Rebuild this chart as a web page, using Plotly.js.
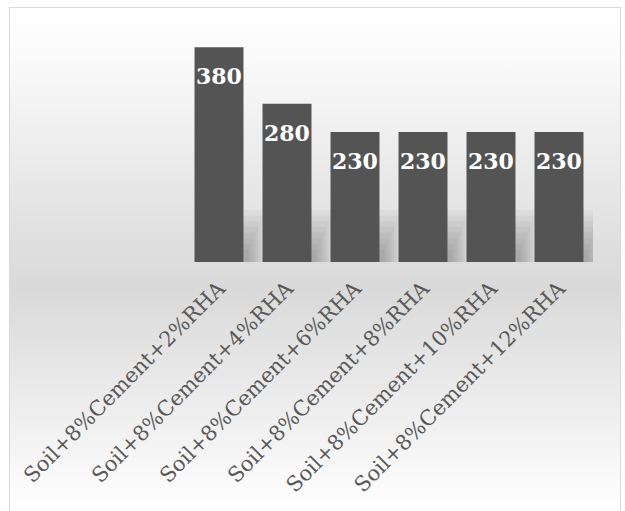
<!DOCTYPE html>
<html>
<head>
<meta charset="utf-8">
<script src="https://cdn.plot.ly/plotly-3.0.1.min.js"></script>
<style>
  html, body { margin: 0; padding: 0; background: #ffffff; }
  #frame {
    position: absolute; left: 9px; top: 7px; width: 612px; height: 520px;
    border: 1px solid #d9d9d9; box-sizing: border-box;
    background: linear-gradient(to bottom, #ffffff 0%, #fbfbfb 8%, #d9d9d9 54%, #ffffff 97%);
  }
  #chart { position: absolute; left: 0; top: 0; width: 625px; height: 511px; }
</style>
</head>
<body>
<div id="frame"></div>
<div id="chart"></div>
<script>
const categories = [
  'Soil+8%Cement+2%RHA',
  'Soil+8%Cement+4%RHA',
  'Soil+8%Cement+6%RHA',
  'Soil+8%Cement+8%RHA',
  'Soil+8%Cement+10%RHA',
  'Soil+8%Cement+12%RHA'
];
const values = [380, 280, 230, 230, 230, 230];

const trace = {
  type: 'bar',
  x: categories,
  y: values,
  marker: { color: '#545454', line: { width: 0 } },
  hoverinfo: 'none'
};

const annotations = categories.map((c, i) => ({
  x: c, y: values[i], xref: 'x', yref: 'y',
  text: '<b>' + values[i] + '</b>',
  showarrow: false, yanchor: 'middle', yshift: -29,
  font: { family: 'DejaVu Serif', size: 22, color: '#ffffff' }
}));

// soft blurred shadow behind bars (stacked translucent rectangles)
const shapes = [];
categories.forEach((c, i) => {
  for (let k = 0; k < 8; k++) {
    shapes.push({
      type: 'rect', layer: 'below', xref: 'x', yref: 'y',
      x0: i + 0.30, x1: i + 0.40 + 0.035 * (8 - k), y0: 0, y1: 12 + 10 * (8 - k),
      fillcolor: 'rgba(0,0,0,0.033)', line: { width: 0 }
    });
  }
});

const layout = {
  width: 625, height: 511,
  margin: { l: 185, r: 32, t: 36, b: 249 },
  paper_bgcolor: 'rgba(0,0,0,0)',
  plot_bgcolor: 'rgba(0,0,0,0)',
  bargap: 0.28,
  showlegend: false,
  xaxis: {
    type: 'category',
    range: [-0.5, categories.length - 0.5],
    tickangle: -45,
    tickfont: { family: 'DejaVu Serif', size: 21, color: '#595959' },
    ticklabelstandoff: 9,
    showgrid: false, zeroline: false, showline: false, ticks: '',
    automargin: false, fixedrange: true
  },
  yaxis: { range: [0, 400], visible: false, fixedrange: true },
  annotations: annotations,
  shapes: shapes
};

Plotly.newPlot('chart', [trace], layout, { displayModeBar: false, staticPlot: true });
</script>
</body>
</html>
